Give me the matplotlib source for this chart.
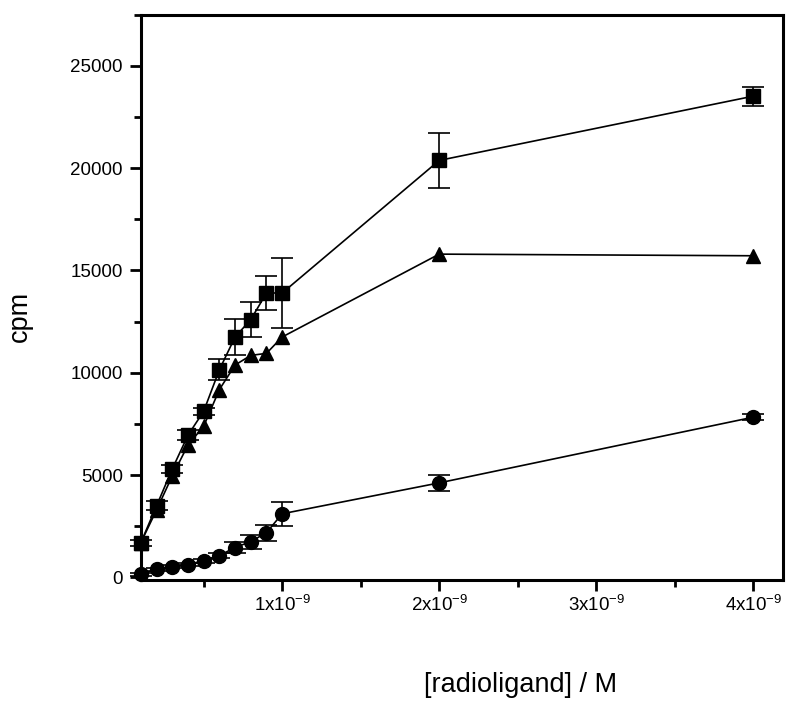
import matplotlib
matplotlib.use("Agg")
import matplotlib.pyplot as plt
from matplotlib.ticker import FixedLocator, FixedFormatter, MultipleLocator

plt.rcParams['font.family'] = ['Liberation Sans', 'DejaVu Sans']
plt.rcParams['mathtext.fontset'] = 'custom'
plt.rcParams['mathtext.rm'] = 'Liberation Sans'
plt.rcParams['mathtext.it'] = 'Liberation Sans'
plt.rcParams['mathtext.bf'] = 'Liberation Sans:bold'

conc = [0.1e-9, 0.2e-9, 0.3e-9, 0.4e-9, 0.5e-9, 0.6e-9, 0.7e-9, 0.8e-9, 0.9e-9, 1.0e-9, 2.0e-9, 4.0e-9]

squares = [1700, 3500, 5300, 6950, 8120, 10150, 11750, 12600, 13900, 13900, 20380, 23520]
squares_err = [150, 220, 180, 250, 180, 520, 860, 850, 830, 1700, 1340, 460]

triangles = [1700, 3300, 4960, 6470, 7390, 9180, 10380, 10850, 10950, 11750, 15800, 15720]

circles = [150, 390, 530, 630, 820, 1070, 1460, 1750, 2190, 3110, 4620, 7830]
circles_err = [60, 60, 60, 60, 100, 120, 290, 340, 390, 590, 400, 150]

xtick_vals = [1e-9, 2e-9, 3e-9, 4e-9]
xtick_labels = [r'1x10$^{\mathrm{-9}}$', r'2x10$^{\mathrm{-9}}$', r'3x10$^{\mathrm{-9}}$', r'4x10$^{\mathrm{-9}}$']
ytick_vals = [0, 5000, 10000, 15000, 20000, 25000]
ytick_labels = ['0', '5000', '10000', '15000', '20000', '25000']

fig = plt.figure(figsize=(7.87, 7.02), dpi=100)
ax = fig.add_axes([0.179, 0.174, 0.816, 0.805])

ekw = dict(color='black', lw=1.2, capsize=8, capthick=1.2, elinewidth=1.2)
c1 = ax.errorbar(conc, squares, yerr=squares_err, fmt='s', ms=9.5, mfc='black', mec='black', ls='-', **ekw)
l2, = ax.plot(conc, triangles, marker='^', ms=10.5, color='black', lw=1.2, mfc='black')
c3 = ax.errorbar(conc, circles, yerr=circles_err, fmt='o', ms=10, mfc='black', mec='black', ls='-', **ekw)
for art in [c1, c3]:
    for child in art.get_children():
        child.set_clip_on(False)
l2.set_clip_on(False)

ax.set_xlim(0.1e-9, 4.19e-9)
ax.set_ylim(-120, 27500)

ax.xaxis.set_major_locator(FixedLocator(xtick_vals))
ax.xaxis.set_major_formatter(FixedFormatter(xtick_labels))
ax.xaxis.set_minor_locator(FixedLocator([0.5e-9, 1.5e-9, 2.5e-9, 3.5e-9]))
ax.yaxis.set_major_locator(FixedLocator(ytick_vals))
ax.yaxis.set_major_formatter(FixedFormatter(ytick_labels))
ax.yaxis.set_minor_locator(MultipleLocator(2500))

for s in ax.spines.values():
    s.set_linewidth(2.2)

ax.tick_params(axis='both', which='major', direction='out', length=8, width=2, labelsize=13.5)
ax.tick_params(axis='both', which='minor', direction='out', length=5, width=2)
ax.tick_params(axis='x', which='major', pad=3)
ax.tick_params(axis='y', which='major', pad=5)

ax.set_xlabel('[radioligand] / M', fontsize=19.5, va='center')
ax.xaxis.set_label_coords(0.592, -0.186)
ax.set_ylabel('cpm', fontsize=19.5, va='center')
ax.yaxis.set_label_coords(-0.188, 0.467)

fig.savefig('out.png', dpi=100)
